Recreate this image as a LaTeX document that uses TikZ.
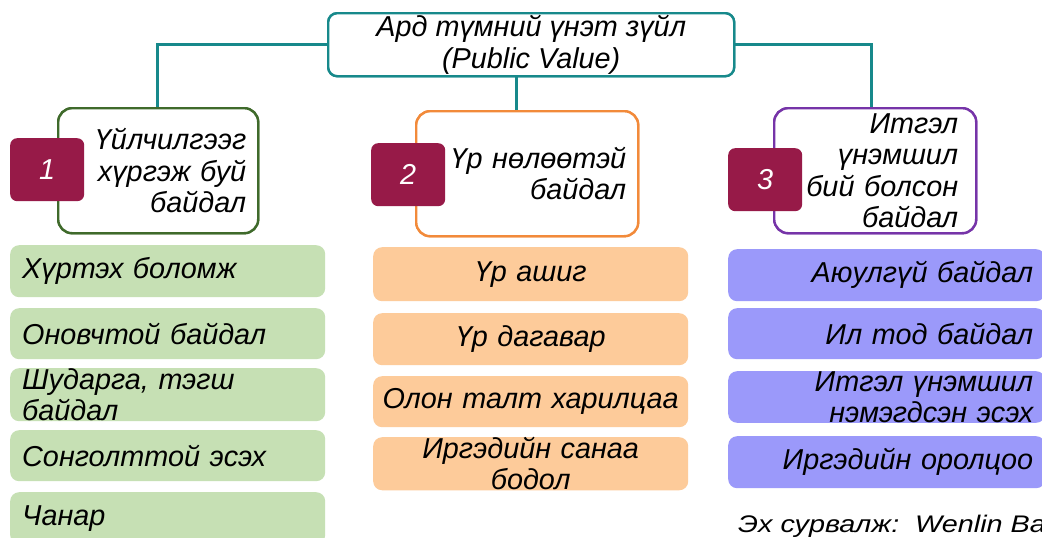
\documentclass[tikz,border=0pt]{standalone}
\usepackage{fontspec}
\setmainfont{Liberation Sans}
\definecolor{teal}{HTML}{17898B}
\definecolor{gborder}{HTML}{3F6A2B}
\definecolor{oborder}{HTML}{F28A3A}
\definecolor{pborder}{HTML}{7634A8}
\definecolor{badgec}{HTML}{971A48}
\definecolor{gfill}{HTML}{C6E0B4}
\definecolor{ofill}{HTML}{FDCB9A}
\definecolor{pfill}{HTML}{9B99FA}
\tikzset{
  txt/.style={font=\fontsize{28.8}{31.5}\selectfont\itshape},
  conn/.style={draw=teal, line width=2.6pt},
  topbox/.style={txt, draw=teal, line width=2.4pt, rounded corners=9pt, fill=white,
    minimum width=406pt, minimum height=63pt, align=center, anchor=north west, inner sep=0pt},
  headbox/.style={txt, line width=2.4pt, rounded corners=14pt, fill=white, minimum height=125pt,
    anchor=north west, align=right, inner xsep=0pt},
  badge/.style={fill=badgec, rounded corners=7pt, minimum width=74pt, minimum height=63pt,
    text=white, font=\fontsize{28.8}{31.5}\selectfont\itshape, anchor=north west, inner sep=0pt},
  item/.style={txt, rounded corners=9pt, anchor=north west, inner ysep=0pt, inner xsep=12pt},
  gitem/.style={item, fill=gfill, text width=291pt, align=left},
  oitem/.style={item, fill=ofill, inner xsep=4pt, text width=307pt, align=center},
  pitem/.style={item, fill=pfill, text width=293pt, align=right},
}
\begin{document}
\begin{tikzpicture}[x=1pt,y=-1pt]
\useasboundingbox (0,0) rectangle (1042,538);
\clip (0,0) rectangle (1042,538);
\fill[white] (0,0) rectangle (1042,538);

% top box and category boxes (named, used as connector ends)
\node[topbox] (top) at (327,12) {Ард түмний үнэт зүйл\\(Public Value)};
\node[headbox, draw=gborder, minimum width=200pt, text width=176pt] (b1) at (57,107)
  {Үйлчилгээг\\хүргэж буй\\байдал};
\node[headbox, draw=oborder, minimum width=222pt, text width=198pt] (b2) at (415,110)
  {Үр нөлөөтэй\\байдал};
\node[headbox, draw=pborder, minimum width=202pt, text width=166pt] (b3) at (773,107)
  {Итгэл\\үнэмшил\\бий болсон\\байдал};

% connectors
\draw[conn] (top.west) -| ([xshift=-1pt]b1.north);
\draw[conn] (top.east) -| ([xshift=-4pt]b3.north);
\draw[conn] ([xshift=-15pt]top.south) -- ([xshift=-11pt]b2.north);

% boxes again, over the connector ends
\node[topbox] at (327,12) {Ард түмний үнэт зүйл\\(Public Value)};
\node[headbox, draw=gborder, minimum width=200pt, text width=176pt] at (57,107)
  {Үйлчилгээг\\хүргэж буй\\байдал};
\node[headbox, draw=oborder, minimum width=222pt, text width=198pt] at (415,110)
  {Үр нөлөөтэй\\байдал};
\node[headbox, draw=pborder, minimum width=202pt, text width=166pt] at (773,107)
  {Итгэл\\үнэмшил\\бий болсон\\байдал};

% badges
\node[badge] (n1) at (10,138) {1};
\node[badge] (n2) at (371,143) {2};
\node[badge] (n3) at (728,148) {3};

% green items
\node[gitem, minimum height=52pt] (g1) at (10,245) {Хүртэх боломж};
\node[gitem, minimum height=51pt] (g2) at (10,308) {Оновчтой байдал};
\node[gitem, minimum height=53pt] (g3) at (10,368) {Шударга, тэгш\\байдал};
\node[gitem, minimum height=51pt] (g4) at (10,430) {Сонголттой эсэх};
\node[gitem, minimum height=52pt] (g5) at (10,492) {Чанар};

% orange items
\node[oitem, minimum height=54pt] (o1) at (373,247) {Үр ашиг};
\node[oitem, minimum height=52pt] (o2) at (373,313) {Үр дагавар};
\node[oitem, minimum height=51pt] (o3) at (373,376) {Олон талт харилцаа};
\node[oitem, minimum height=52pt] (o4) at (373,437) {Иргэдийн санаа\\бодол};

% purple items
\node[pitem, minimum height=52pt] (p1) at (728,249) {Аюулгүй байдал};
\node[pitem, minimum height=51pt] (p2) at (728,308) {Ил тод байдал};
\node[pitem, minimum height=51pt] (p3) at (728,371) {Итгэл үнэмшил\\нэмэгдсэн эсэх};
\node[pitem, minimum height=52pt] (p4) at (728,436) {Иргэдийн оролцоо};

% source (cut off at the right edge, as in the reference)
\node[font=\fontsize{24}{26}\selectfont\itshape, anchor=base west, inner sep=0pt] (src) at (738,532)
  {\scalebox{1.2}[1]{Эх сурвалж:~~Wenlin Ba}};
\end{tikzpicture}
\end{document}
